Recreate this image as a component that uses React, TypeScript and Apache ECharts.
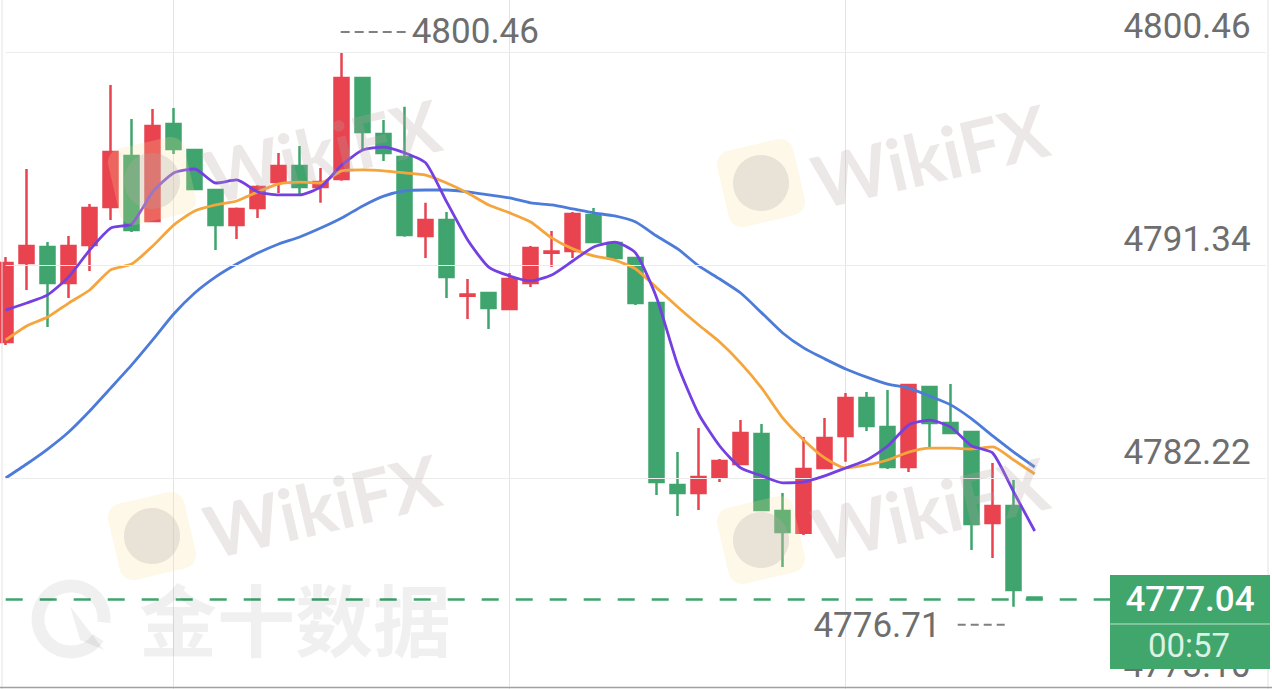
import React, { useEffect, useRef } from 'react';
import * as echarts from 'echarts';

const categories: string[] = Array.from({ length: 61 }, (_, i) => `${i + 1}`);

// [open, close, low, high]
const candles: number[][] = [
  [4788.04, 4791.43, 4787.91, 4791.68],
  [4791.43, 4792.15, 4790.27, 4795.45],
  [4792.11, 4790.57, 4788.68, 4792.32],
  [4790.57, 4792.15, 4789.93, 4792.58],
  [4792.20, 4793.78, 4791.08, 4793.95],
  [4793.82, 4796.18, 4793.27, 4799.05],
  [4796.01, 4792.84, 4792.75, 4797.59],
  [4793.22, 4797.29, 4793.18, 4798.02],
  [4797.38, 4796.31, 4796.09, 4798.06],
  [4796.26, 4794.59, 4794.55, 4796.30],
  [4794.55, 4793.05, 4791.98, 4794.60],
  [4793.05, 4793.74, 4792.45, 4793.80],
  [4793.78, 4794.68, 4793.35, 4794.75],
  [4794.89, 4795.58, 4794.42, 4796.14],
  [4795.58, 4794.68, 4794.38, 4796.44],
  [4794.68, 4794.89, 4794.00, 4795.49],
  [4795.02, 4799.35, 4794.95, 4800.46],
  [4799.35, 4797.03, 4796.26, 4799.40],
  [4796.95, 4796.14, 4795.79, 4797.55],
  [4795.96, 4792.62, 4792.55, 4798.11],
  [4792.58, 4793.27, 4791.64, 4794.00],
  [4793.27, 4790.83, 4789.93, 4793.61],
  [4790.02, 4790.08, 4789.03, 4790.74],
  [4790.14, 4789.50, 4788.60, 4790.18],
  [4789.46, 4790.74, 4789.42, 4791.00],
  [4790.57, 4792.07, 4790.40, 4792.15],
  [4791.86, 4791.92, 4791.25, 4792.80],
  [4791.94, 4793.52, 4791.64, 4793.61],
  [4793.48, 4792.32, 4792.28, 4793.78],
  [4792.28, 4791.64, 4791.60, 4792.32],
  [4791.64, 4789.71, 4789.63, 4791.68],
  [4789.71, 4782.05, 4781.49, 4789.75],
  [4781.92, 4781.58, 4780.59, 4783.33],
  [4781.58, 4782.26, 4780.85, 4784.36],
  [4782.26, 4782.95, 4782.05, 4783.03],
  [4782.82, 4784.15, 4782.78, 4784.70],
  [4784.10, 4780.85, 4780.80, 4784.53],
  [4780.81, 4779.91, 4778.41, 4781.58],
  [4779.87, 4782.61, 4779.78, 4783.98],
  [4782.65, 4783.93, 4782.60, 4784.79],
  [4784.02, 4785.65, 4782.91, 4785.86],
  [4785.65, 4784.45, 4784.23, 4785.90],
  [4784.40, 4782.69, 4782.61, 4785.99],
  [4782.69, 4786.20, 4782.48, 4786.25],
  [4786.12, 4784.57, 4783.55, 4786.16],
  [4784.57, 4784.15, 4784.10, 4786.24],
  [4784.19, 4780.25, 4779.14, 4784.23],
  [4780.29, 4781.02, 4778.79, 4782.86],
  [4781.02, 4777.42, 4776.71, 4782.13],
  [4777.10, 4777.04, 4777.00, 4777.14],
];

const ma5: number[] = [
  4789.41, 4789.71, 4790.06, 4790.83, 4791.98, 4792.92, 4793.10, 4794.47, 4795.28, 4795.45,
  4794.85, 4794.98, 4794.47, 4794.34, 4794.34, 4794.68, 4795.62, 4796.26, 4796.39, 4796.14,
  4795.71, 4794.04, 4792.41, 4791.25, 4790.87, 4790.66, 4790.91, 4791.51, 4792.11, 4792.32,
  4791.85, 4789.93, 4787.06, 4784.96, 4783.59, 4782.65, 4782.31, 4782.01, 4782.05, 4782.31,
  4782.65, 4782.99, 4783.59, 4784.49, 4784.70, 4784.40, 4783.59, 4783.29, 4781.62, 4779.95,
];

const ma10: number[] = [
  4788.13, 4788.73, 4789.11, 4789.71, 4790.27, 4791.13, 4791.38, 4792.15, 4793.05, 4793.65,
  4793.91, 4794.08, 4794.47, 4794.81, 4794.89, 4794.85, 4795.37, 4795.41, 4795.37, 4795.28,
  4795.19, 4794.85, 4794.42, 4793.91, 4793.57, 4793.18, 4792.50, 4792.03, 4791.73, 4791.55,
  4791.17, 4790.36, 4789.54, 4788.77, 4788.04, 4787.14, 4786.07, 4784.79, 4783.85, 4783.08,
  4782.65, 4782.78, 4782.99, 4783.33, 4783.50, 4783.50, 4783.46, 4783.55, 4782.99, 4782.39,
];

const ma30: number[] = [
  4782.22, 4782.82, 4783.46, 4784.19, 4785.09, 4786.07, 4787.06, 4788.13, 4789.24, 4790.14,
  4790.83, 4791.38, 4791.85, 4792.24, 4792.54, 4792.92, 4793.35, 4793.87, 4794.29, 4794.51,
  4794.55, 4794.55, 4794.47, 4794.34, 4794.21, 4794.00, 4793.91, 4793.74, 4793.57, 4793.44,
  4793.18, 4792.58, 4792.03, 4791.30, 4790.74, 4790.14, 4789.29, 4788.43, 4787.79, 4787.32,
  4786.89, 4786.54, 4786.24, 4786.07, 4785.73, 4785.35, 4784.75, 4784.02, 4783.33, 4782.69,
];

const yTicks: number[] = [4800.46, 4791.34, 4782.22, 4773.1];
const xGridIndices: number[] = [8, 24, 40];
const lastPrice = 4777.04;
const countdown = '00:57';
const highestIndex = 16;
const highestValue = 4800.46;
const lowestIndex = 48;
const lowestValue = 4776.71;

const RED = '#e8434f';
const GREEN = '#3fa46d';
const LABEL = '#6e6e6e';
const FONT = 'Roboto, "Noto Sans", sans-serif';

function txt(x: number, y: number, text: string, fontSize: number, fill: string, align: string, extra: any = {}) {
  return {
    type: 'text',
    x,
    y,
    z: 300,
    silent: true,
    style: {
      text,
      fontSize,
      fontFamily: FONT,
      fill,
      align,
      textAlign: align,
      verticalAlign: 'middle',
      textVerticalAlign: 'middle',
      ...extra,
    },
  };
}

function wiki(tx: number, ty: number, lx: number, ly: number) {
  return [
    {
      type: 'text',
      x: tx,
      y: ty,
      rotation: 0.23,
      z: 50,
      silent: true,
      style: {
        text: 'WikiFX',
        fontSize: 72,
        fontWeight: 'bold',
        fontFamily: 'Lato, Roboto, sans-serif',
        fill: 'rgba(185,165,165,0.26)',
        align: 'center',
        textAlign: 'center',
        verticalAlign: 'middle',
        textVerticalAlign: 'middle',
      },
    },
    {
      type: 'group',
      x: lx,
      y: ly,
      rotation: 0.23,
      silent: true,
      children: [
        { type: 'rect', z: 50, shape: { x: -39, y: -39, width: 78, height: 78, r: 14 }, style: { fill: 'rgba(252,222,150,0.22)' } },
        { type: 'circle', z: 51, shape: { cx: 0, cy: 0, r: 28 }, style: { fill: 'rgba(180,168,168,0.28)' } },
      ],
    },
  ];
}

export default function App() {
  const ref = useRef<HTMLDivElement>(null);

  useEffect(() => {
    const chart = echarts.init(ref.current as HTMLDivElement, null, { renderer: 'svg', width: 1272, height: 700 });
    const option: any = {
      animation: false,
      backgroundColor: '#ffffff',
      grid: { left: 5.7, right: 6.3, top: 0, bottom: 0, containLabel: false },
      xAxis: {
        type: 'category',
        data: categories,
        boundaryGap: false,
        axisLine: { show: false },
        axisTick: { show: false },
        axisLabel: { show: false },
        splitLine: {
          show: true,
          interval: (index: number) => xGridIndices.indexOf(index) >= 0,
          lineStyle: { color: '#e4e4e4', width: 1 },
        },
      },
      yAxis: {
        type: 'value',
        scale: true,
        min: 4772.714,
        max: 4802.686,
        axisLine: { show: false },
        axisTick: { show: false },
        axisLabel: { show: false },
        splitLine: { show: false },
      },
      series: [
        {
          type: 'line',
          name: 'grid',
          data: [],
          z: 1,
          silent: true,
          markLine: {
            silent: true,
            symbol: ['none', 'none'],
            lineStyle: { color: '#ececec', width: 1, type: 'solid' },
            label: {
              show: true,
              position: 'insideEndTop',
              distance: [15, 8],
              fontSize: 35,
              color: LABEL,
              fontFamily: FONT,
            },
            data: yTicks.map((v) => ({ yAxis: v, label: { formatter: v.toFixed(2) } })),
          },
        },
        {
          type: 'candlestick',
          name: 'K',
          data: candles,
          barWidth: 14.5,
          z: 3,
          itemStyle: {
            color: RED,
            color0: GREEN,
            borderColor: RED,
            borderColor0: GREEN,
            borderWidth: 2.5,
          },
          markLine: {
            silent: true,
            symbol: ['none', 'none'],
            label: { show: false },
            lineStyle: { color: GREEN, width: 2.5, type: [17, 17] },
            data: [{ yAxis: lastPrice }],
          },
        },
        {
          type: 'line',
          name: 'MA30',
          data: ma30,
          smooth: 0.2,
          symbol: 'none',
          z: 4,
          lineStyle: { color: '#4d7bd9', width: 2.8 },
        },
        {
          type: 'line',
          name: 'MA10',
          data: ma10,
          smooth: 0.2,
          symbol: 'none',
          z: 4,
          lineStyle: { color: '#f5a53c', width: 2.8 },
        },
        {
          type: 'line',
          name: 'MA5',
          data: ma5,
          smooth: 0.2,
          symbol: 'none',
          z: 5,
          lineStyle: { color: '#7440e2', width: 2.8 },
        },
      ],
    };
    chart.setOption(option);

    const hx = chart.convertToPixel({ xAxisIndex: 0 } as any, categories[highestIndex]) as number;
    const hy = chart.convertToPixel({ yAxisIndex: 0 } as any, highestValue) as number;
    const lx = chart.convertToPixel({ xAxisIndex: 0 } as any, categories[lowestIndex]) as number;
    const ly = chart.convertToPixel({ yAxisIndex: 0 } as any, lowestValue) as number;
    const py = chart.convertToPixel({ yAxisIndex: 0 } as any, lastPrice) as number;

    const graphics: any[] = [
      ...wiki(322, 150, 152, 181),
      ...wiki(930, 155, 761, 183),
      ...wiki(322, 505, 152, 536),
      ...wiki(930, 508, 761, 540),
      {
        type: 'text',
        x: 295,
        y: 617,
        z: 40,
        silent: true,
        style: {
          text: '金十数据',
          fontSize: 78,
          fontWeight: 'bold',
          fontFamily: '"Noto Sans CJK SC", sans-serif',
          fill: 'rgba(0,0,0,0.06)',
          align: 'center',
          textAlign: 'center',
          verticalAlign: 'middle',
          textVerticalAlign: 'middle',
        },
      },
      {
        type: 'arc',
        z: 40,
        silent: true,
        shape: { cx: 71, cy: 619, r: 33, startAngle: 0.6, endAngle: Math.PI * 2 + 0.1 },
        style: { stroke: 'rgba(0,0,0,0.06)', lineWidth: 13, fill: 'none' },
      },
      {
        type: 'polygon',
        z: 40,
        silent: true,
        shape: { points: [[70, 606], [104, 650], [80, 640]] },
        style: { fill: 'rgba(0,0,0,0.06)' },
      },
      // frame
      { type: 'line', z: 10, silent: true, shape: { x1: 2, y1: 0, x2: 2, y2: 689 }, style: { stroke: '#e2e2e2', lineWidth: 1 } },
      { type: 'line', z: 10, silent: true, shape: { x1: 1268, y1: 0, x2: 1268, y2: 689 }, style: { stroke: '#e2e2e2', lineWidth: 1 } },
      { type: 'line', z: 10, silent: true, shape: { x1: 0, y1: 687.5, x2: 1272, y2: 687.5 }, style: { stroke: '#a0a0a0', lineWidth: 1.5 } },
      // highest marker
      {
        type: 'line', z: 300, silent: true,
        shape: { x1: hx - 1, y1: hy - 20, x2: hx + 64, y2: hy - 20 },
        style: { stroke: '#808080', lineWidth: 2, lineDash: [9, 5] },
      },
      txt(hx + 70, hy - 20, highestValue.toFixed(2), 35, LABEL, 'left'),
      // lowest marker
      {
        type: 'line', z: 300, silent: true,
        shape: { x1: lx - 56, y1: ly + 18, x2: lx - 9, y2: ly + 18 },
        style: { stroke: '#808080', lineWidth: 2, lineDash: [8, 5] },
      },
      txt(lx - 73, ly + 19, lowestValue.toFixed(2), 35, LABEL, 'right'),
      // price box
      {
        type: 'rect', z: 280, silent: true,
        shape: { x: 1110, y: py - 24, width: 160, height: 94 },
        style: { fill: '#40a66c' },
      },
      {
        type: 'line', z: 290, silent: true,
        shape: { x1: 1110, y1: py + 25, x2: 1270, y2: py + 25 },
        style: { stroke: 'rgba(255,255,255,0.45)', lineWidth: 1.5 },
      },
      txt(1190, py + 1, lastPrice.toFixed(2), 35, '#ffffff', 'center', { fontWeight: 500 }),
      txt(1189, py + 47, countdown, 33, '#dcf2e4', 'center'),
    ];
    chart.setOption({ graphic: graphics });

    return () => chart.dispose();
  }, []);

  return (
    <div
      ref={ref}
      style={{ position: 'fixed', left: 0, top: 0, width: 1272, height: 700, background: '#ffffff' }}
    />
  );
}
